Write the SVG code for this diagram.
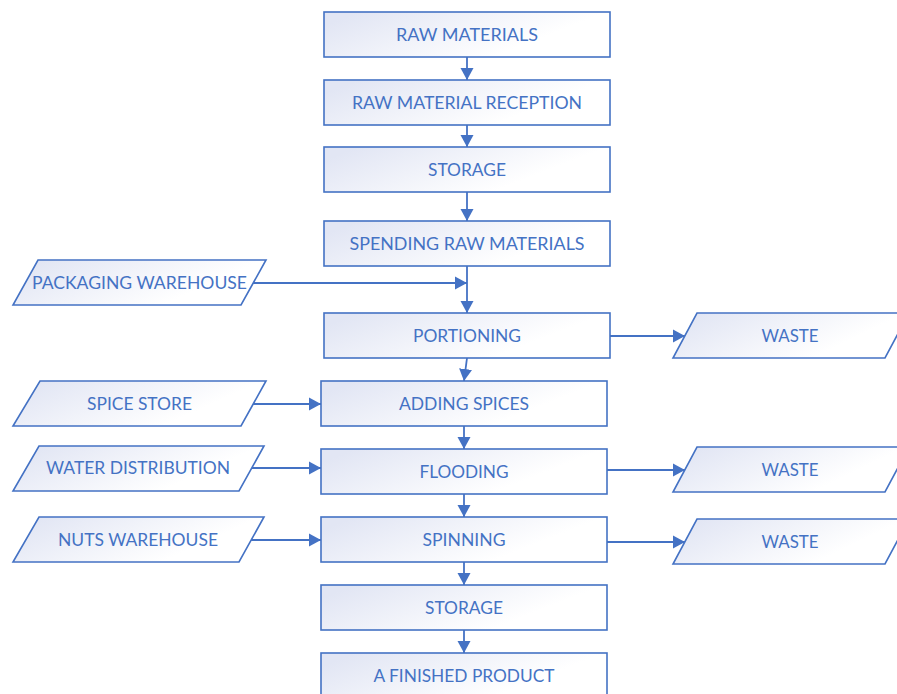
<svg xmlns="http://www.w3.org/2000/svg" width="897" height="694" viewBox="0 0 897 694">
<defs>
<linearGradient id="g" x1="0" y1="0.3" x2="1" y2="0.7">
<stop offset="0" stop-color="#E2E6F4"/>
<stop offset="0.75" stop-color="#FFFFFF"/>
</linearGradient>
<marker id="ah" markerUnits="userSpaceOnUse" markerWidth="14" markerHeight="14" refX="12" refY="7" orient="auto">
<path d="M0,0.5 L12,7 L0,13.5 z" fill="#4472C4"/>
</marker>
<style>
.b{fill:url(#g);stroke:#4472C4;stroke-width:1.6}
.t{font-family:Lato,"Liberation Sans",sans-serif;font-size:17px;fill:#4472C4;text-anchor:middle}
.c{fill:none;stroke:#4472C4;stroke-width:1.8}
</style>
</defs>
<g id="connectors">
<path class="c" d="M467,57 V80" marker-end="url(#ah)"/>
<path class="c" d="M467,125 V147" marker-end="url(#ah)"/>
<path class="c" d="M467,192 V221" marker-end="url(#ah)"/>
<path class="c" d="M467,266 V313" marker-end="url(#ah)"/>
<path class="c" d="M253,283 H467" marker-end="url(#ah)"/>
<path class="c" d="M467,358 L464,381" marker-end="url(#ah)"/>
<path class="c" d="M464,426 V449" marker-end="url(#ah)"/>
<path class="c" d="M464,494 V517" marker-end="url(#ah)"/>
<path class="c" d="M464,562 V585" marker-end="url(#ah)"/>
<path class="c" d="M464,630 V653" marker-end="url(#ah)"/>
<path class="c" d="M253,404 H321" marker-end="url(#ah)"/>
<path class="c" d="M251,468 H321" marker-end="url(#ah)"/>
<path class="c" d="M251,540 H321" marker-end="url(#ah)"/>
<path class="c" d="M610,336 H685" marker-end="url(#ah)"/>
<path class="c" d="M607,470 H685" marker-end="url(#ah)"/>
<path class="c" d="M607,542 H685" marker-end="url(#ah)"/>
</g>
<g id="n1"><rect class="b" x="324" y="12" width="286" height="45"/><text class="t" x="467" y="41" textLength="142" lengthAdjust="spacingAndGlyphs">RAW MATERIALS</text></g>
<g id="n2"><rect class="b" x="324" y="80" width="286" height="45"/><text class="t" x="467" y="109" textLength="230" lengthAdjust="spacingAndGlyphs">RAW MATERIAL RECEPTION</text></g>
<g id="n3"><rect class="b" x="324" y="147" width="286" height="45"/><text class="t" x="467" y="176" textLength="78" lengthAdjust="spacingAndGlyphs">STORAGE</text></g>
<g id="n4"><rect class="b" x="324" y="221" width="286" height="45"/><text class="t" x="467" y="250" textLength="235" lengthAdjust="spacingAndGlyphs">SPENDING RAW MATERIALS</text></g>
<g id="n5"><rect class="b" x="324" y="313" width="286" height="45"/><text class="t" x="467" y="342" textLength="108" lengthAdjust="spacingAndGlyphs">PORTIONING</text></g>
<g id="n6"><rect class="b" x="321" y="381" width="286" height="45"/><text class="t" x="464" y="410" textLength="130" lengthAdjust="spacingAndGlyphs">ADDING SPICES</text></g>
<g id="n7"><rect class="b" x="321" y="449" width="286" height="45"/><text class="t" x="464" y="478" textLength="89" lengthAdjust="spacingAndGlyphs">FLOODING</text></g>
<g id="n8"><rect class="b" x="321" y="517" width="286" height="45"/><text class="t" x="464" y="546" textLength="83" lengthAdjust="spacingAndGlyphs">SPINNING</text></g>
<g id="n9"><rect class="b" x="321" y="585" width="286" height="45"/><text class="t" x="464" y="614" textLength="78" lengthAdjust="spacingAndGlyphs">STORAGE</text></g>
<g id="n10"><rect class="b" x="321" y="653" width="286" height="45"/><text class="t" x="464" y="682" textLength="181" lengthAdjust="spacingAndGlyphs">A FINISHED PRODUCT</text></g>
<g id="p1"><path class="b" d="M38,260 H266 L241,305 H13 Z"/><text class="t" x="139.5" y="289" textLength="215" lengthAdjust="spacingAndGlyphs">PACKAGING WAREHOUSE</text></g>
<g id="p2"><path class="b" d="M40,381 H266 L241,426 H13 Z"/><text class="t" x="139.5" y="410" textLength="105" lengthAdjust="spacingAndGlyphs">SPICE STORE</text></g>
<g id="p3"><path class="b" d="M39,446 H264 L239,491 H13 Z"/><text class="t" x="138" y="474" textLength="184" lengthAdjust="spacingAndGlyphs">WATER DISTRIBUTION</text></g>
<g id="p4"><path class="b" d="M39,517 H264 L239,562 H13 Z"/><text class="t" x="138" y="546" textLength="160" lengthAdjust="spacingAndGlyphs">NUTS WAREHOUSE</text></g>
<g id="w1"><path class="b" d="M697,313 H909 L885,358 H673 Z"/><text class="t" x="790" y="342" textLength="57" lengthAdjust="spacingAndGlyphs">WASTE</text></g>
<g id="w2"><path class="b" d="M697,447 H909 L885,492 H673 Z"/><text class="t" x="790" y="476" textLength="57" lengthAdjust="spacingAndGlyphs">WASTE</text></g>
<g id="w3"><path class="b" d="M697,519 H909 L885,564 H673 Z"/><text class="t" x="790" y="548" textLength="57" lengthAdjust="spacingAndGlyphs">WASTE</text></g>
</svg>
